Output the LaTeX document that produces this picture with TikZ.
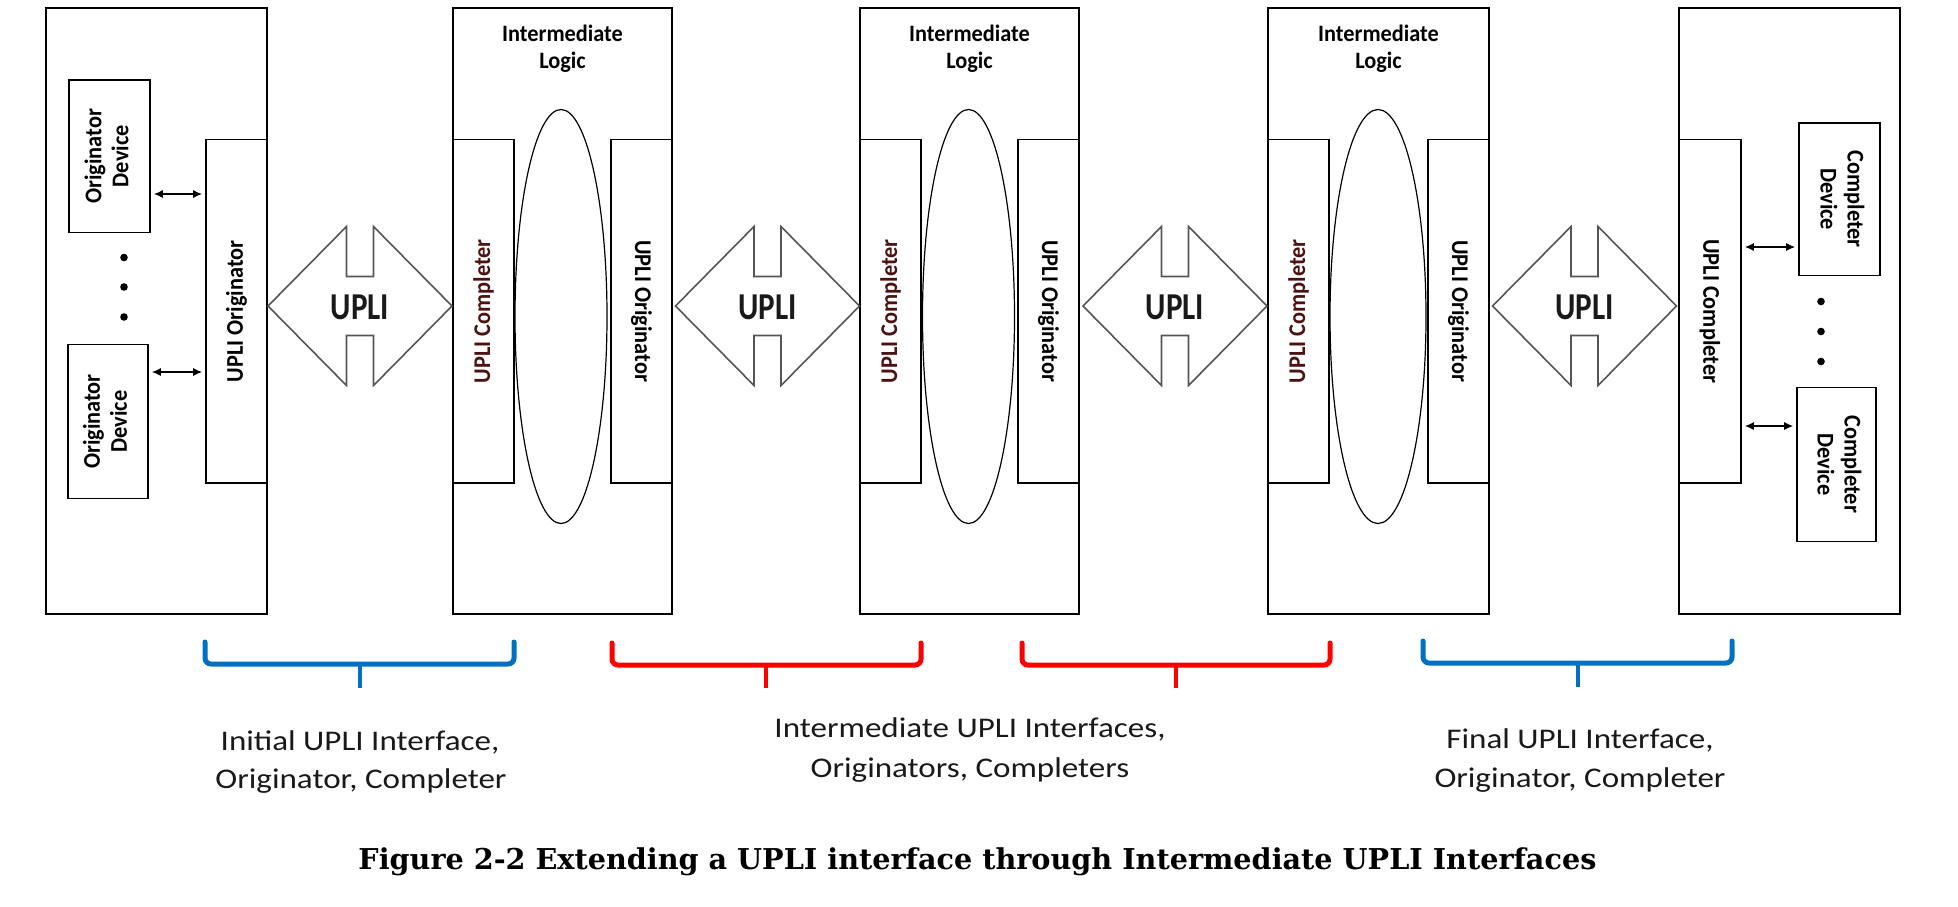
\documentclass[tikz,border=0pt]{standalone}
\usepackage{graphicx}
\usepackage{fontspec}
\setmainfont{Carlito}
\newfontfamily\capfont{DejaVu Serif}
\usetikzlibrary{arrows.meta,shapes.geometric,fit}
\definecolor{bblue}{RGB}{0,112,192}
\definecolor{bred}{RGB}{255,0,0}
\definecolor{cred}{RGB}{75,18,18}
\definecolor{agray}{RGB}{85,85,85}
\newcommand\sx[1]{\scalebox{0.93}[1]{#1}}
\newcommand\twol[2]{\sx{\begin{tabular}{@{}c@{}}#1\\#2\end{tabular}}}
\newcommand\lx[1]{\scalebox{1.16}[1]{#1}}
\newcommand\ix[1]{\scalebox{0.95}[1]{#1}}
\begin{document}
\begin{tikzpicture}[x=0.5pt,y=-0.5pt,
  box/.style={draw=black,line width=0.8pt,inner sep=0pt},
  ell/.style={draw=black,line width=0.6pt,ellipse,inner sep=0pt,minimum width=46pt,minimum height=207pt},
  rtext/.style={font=\bfseries\fontsize{12}{13.5}\selectfont,align=center,inner sep=0pt},
  itext/.style={font=\bfseries\fontsize{11.75}{13.5}\selectfont,inner sep=0pt,anchor=base},
  lab/.style={font=\fontsize{14.25}{19}\selectfont,text=black!90,inner sep=0pt,anchor=base},
  upli/.style={font=\bfseries\fontsize{19}{22}\selectfont,text=black!90,inner sep=0pt},
  uarrow/.style={draw=agray,line width=0.8pt,line join=miter},
  dbl/.style={{Latex[length=4.5pt,width=4pt]}-{Latex[length=4.5pt,width=4pt]},line width=0.7pt,shorten <=1.5pt,shorten >=1.5pt},
  dot/.style={circle,fill=black,inner sep=0pt,minimum size=3.8pt},
  brace/.style={line width=2.5pt,rounded corners=3pt,line cap=round},
  stem/.style={line width=2pt}
]
\useasboundingbox (0,0) rectangle (1958,906);

% outer boxes
\node[box,fit={(46,8) (267,614)}] (b1) {};
\node[box,fit={(453,8) (672,614)}] (b2) {};
\node[box,fit={(860,8) (1079,614)}] (b3) {};
\node[box,fit={(1268,8) (1489,614)}] (b4) {};
\node[box,fit={(1679,8) (1900,614)}] (b5) {};

% inner interface boxes
\node[box,fit={(206,139.5) (267,483)}] (o1) {};
\node[box,fit={(453,139.5) (514,483)}] (c2) {};
\node[box,fit={(611,139.5) (672,483)}] (o2) {};
\node[box,fit={(860,139.5) (921,483)}] (c3) {};
\node[box,fit={(1018,139.5) (1079,483)}] (o3) {};
\node[box,fit={(1268,139.5) (1329,483)}] (c4) {};
\node[box,fit={(1428,139.5) (1489,483)}] (o4) {};
\node[box,fit={(1679,139.5) (1741,483)}] (c5) {};

% ellipses
\node[ell] (e2) at (561,316.5) {};
\node[ell] (e3) at (968.5,316.5) {};
\node[ell,minimum width=48pt] (e4) at (1378,316.5) {};

% devices
\node[box,fit={(69,80) (150,232.5)}] (od1) {};
\node[box,fit={(68,344.5) (148,498.5)}] (od2) {};
\node[box,fit={(1799,123) (1880,275.5)}] (cd1) {};
\node[box,fit={(1797,387.5) (1876,541.5)}] (cd2) {};

\node[rtext,rotate=90] (od1t) at (od1.center) {\twol{Originator}{Device}};
\node[rtext,rotate=90] (od2t) at (od2.center) {\twol{Originator}{Device}};
\node[rtext,rotate=-90] (cd1t) at (cd1.center) {\twol{Completer}{Device}};
\node[rtext,rotate=-90] (cd2t) at (cd2.center) {\twol{Completer}{Device}};

% interface labels
\node[rtext,rotate=90] (o1t) at (o1.center) {\sx{UPLI Originator}};
\node[rtext,rotate=90,text=cred] (c2t) at (c2.center) {\sx{UPLI Completer}};
\node[rtext,rotate=-90] (o2t) at (o2.center) {\sx{UPLI Originator}};
\node[rtext,rotate=90,text=cred] (c3t) at (c3.center) {\sx{UPLI Completer}};
\node[rtext,rotate=-90] (o3t) at (o3.center) {\sx{UPLI Originator}};
\node[rtext,rotate=90,text=cred] (c4t) at (c4.center) {\sx{UPLI Completer}};
\node[rtext,rotate=-90] (o4t) at (o4.center) {\sx{UPLI Originator}};
\node[rtext,rotate=-90] (c5t) at (c5.center) {\sx{UPLI Completer}};

% intermediate logic titles
\foreach \n/\cx in {2/562.5,3/969.5,4/1378.5}{
  \node[itext] (il\n-a) at (\cx,41) {\ix{Intermediate}};
  \node[itext] (il\n-b) at (\cx,68) {\ix{Logic}};
}

% device connectors
\coordinate (ya) at (0,194);
\coordinate (yb) at (0,372);
\coordinate (yc) at (0,247);
\coordinate (yd) at (0,426);
\draw[dbl] (od1.east |- ya) -- (o1.west |- ya);
\draw[dbl] (od2.east |- yb) -- (o1.west |- yb);
\draw[dbl] (c5.east |- yc) -- (cd1.west |- yc);
\draw[dbl] (c5.east |- yd) -- (cd2.west |- yd);

% ellipsis dots
\node[dot] (d1) at (124,257.5) {};
\node[dot] (d2) at (124,287) {};
\node[dot] (d3) at (124,317) {};
\node[dot] (d4) at (1821,301.5) {};
\node[dot] (d5) at (1821,331.5) {};
\node[dot] (d6) at (1821,361.5) {};

% UPLI double arrows
\foreach \c/\nm in {360/u1,767.5/u2,1175/u3,1584.5/u4}{
  \draw[uarrow] ({\c-92},306) -- ({\c-13.5},226.5) -- ({\c-13.5},276.5) -- ({\c+13.5},276.5)
    -- ({\c+13.5},226.5) -- ({\c+92},306) -- ({\c+13.5},385.5) -- ({\c+13.5},335.5)
    -- ({\c-13.5},335.5) -- ({\c-13.5},385.5) -- cycle;
  \node[upli] (\nm) at (\c,307) {\scalebox{0.82}[1]{UPLI}};
}

% braces
\draw[brace,bblue] (205,642) -- (205,664) -- (514,664) -- (514,642);
\draw[stem,bblue] (360,664) -- (360,688);
\draw[brace,bred] (612,643) -- (612,665) -- (921,665) -- (921,643);
\draw[stem,bred] (766,665) -- (766,688);
\draw[brace,bred] (1022,643) -- (1022,665) -- (1330,665) -- (1330,643);
\draw[stem,bred] (1176,665) -- (1176,688);
\draw[brace,bblue] (1423,641) -- (1423,663) -- (1732,663) -- (1732,641);
\draw[stem,bblue] (1578,663) -- (1578,687);

% bottom labels
\node[lab] (l1a) at (360,750) {\lx{Initial UPLI Interface,}};
\node[lab] (l1b) at (361,788) {\lx{Originator, Completer}};
\node[lab] (l2a) at (970,737) {\lx{Intermediate UPLI Interfaces,}};
\node[lab] (l2b) at (970,777) {\lx{Originators, Completers}};
\node[lab] (l3a) at (1580,748) {\lx{Final UPLI Interface,}};
\node[lab] (l3b) at (1580,787) {\lx{Originator, Completer}};

% caption
\node[anchor=base west,inner sep=0pt] (cap) at (358,869)
  {\resizebox{619pt}{10.9pt}{\capfont\bfseries Figure 2-2 Extending a UPLI interface through Intermediate UPLI Interfaces}};
\end{tikzpicture}
\end{document}
